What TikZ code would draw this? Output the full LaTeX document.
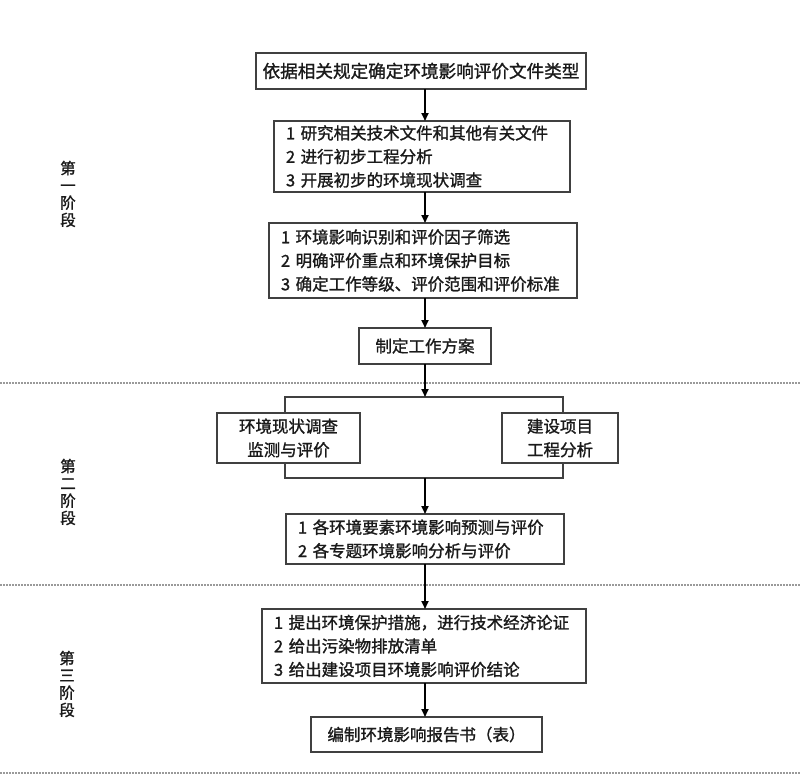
\documentclass[tikz,border=0pt]{standalone}
\usepackage{fontspec}
\setmainfont{Noto Sans CJK SC}[AutoFakeBold=1.3]
\usetikzlibrary{arrows.meta,positioning}
\definecolor{bordc}{HTML}{404040}
\definecolor{txtc}{HTML}{1A1A1A}
\definecolor{dashc}{HTML}{9A9A9A}
\tikzset{
  box/.style={draw=bordc, line width=1.4pt, fill=white, text=txtc, inner ysep=0pt,
    font=\fontsize{16.5}{23.5}\selectfont\bfseries, anchor=north west, outer sep=0pt},
  lbox/.style={box, align=left, inner xsep=12pt},
  cbox/.style={box, align=center, inner xsep=2pt},
  arr/.style={line width=1.8pt, draw=black, -{Triangle[length=8pt,width=7pt]}},
  sepline/.style={draw=dashc, line width=1.2pt, dash pattern=on 2pt off 1pt},
  stage/.style={text=txtc, font=\fontsize{15.5}{17.3}\selectfont\bfseries, align=center, inner sep=0pt},
}
\begin{document}
\begin{tikzpicture}[x=1pt,y=-1pt]
\useasboundingbox (0,0) rectangle (800,776);
\fill[white] (0,0) rectangle (800,776);

% separators
\coordinate (s1a) at (0,383); \coordinate (s1b) at (800,383);
\coordinate (s2a) at (0,585); \coordinate (s2b) at (800,585);
\coordinate (s3a) at (0,773); \coordinate (s3b) at (800,773);
\draw[sepline] (s1a) -- (s1b);
\draw[sepline] (s2a) -- (s2b);
\draw[sepline] (s3a) -- (s3b);

% stage labels
\node[stage] (st1) at (68,194) {第\\一\\阶\\段};
\node[stage] (st2) at (68,492) {第\\二\\阶\\段};
\node[stage] (st3) at (67,684) {第\\三\\阶\\段};

% boxes
\node[cbox, minimum width=330pt, minimum height=36pt, font=\fontsize{17.6}{23.5}\selectfont\bfseries] (b1) at (256,53) {依据相关规定确定环境影响评价文件类型};
\node[lbox, text width=272pt, minimum height=71pt] (b2) at (274,121)
  {1 研究相关技术文件和其他有关文件\\2 进行初步工程分析\\3 开展初步的环境现状调查};
\node[lbox, text width=284pt, minimum height=75pt] (b3) at (269,223)
  {1 环境影响识别和评价因子筛选\\2 明确评价重点和环境保护目标\\3 确定工作等级、评价范围和评价标准};
\node[cbox, minimum width=132pt, minimum height=36pt] (b4) at (359,328) {制定工作方案};

% branch bracket
\node[draw=bordc, line width=1.4pt, minimum width=278pt, minimum height=81pt, anchor=north west, inner sep=0pt, outer sep=0pt] (br) at (285,397) {};
\node[cbox, minimum width=143pt, minimum height=50pt] (bl) at (217,413) {环境现状调查\\监测与评价};
\node[cbox, minimum width=116pt, minimum height=50pt] (brt) at (502,413) {建设项目\\工程分析};

\node[lbox, text width=254pt, minimum height=50pt] (b5) at (286,514)
  {1 各环境要素环境影响预测与评价\\2 各专题环境影响分析与评价};
\node[lbox, text width=300pt, minimum height=74pt] (b6) at (262,609)
  {1 提出环境保护措施，进行技术经济论证\\2 给出污染物排放清单\\3 给出建设项目环境影响评价结论};
\node[cbox, minimum width=231pt, minimum height=35pt] (b7) at (311,717) {编制环境影响报告书（表）};

% arrows
\draw[arr] (b1.south -| b4.center) -- (b2.north -| b4.center);
\draw[arr] (b2.south -| b4.center) -- (b3.north -| b4.center);
\draw[arr] (b3.south -| b4.center) -- (b4.north);
\draw[arr] (b4.south) -- (br.north -| b4.center);
\draw[arr] (br.south -| b4.center) -- (b5.north -| b4.center);
\draw[arr] (b5.south -| b4.center) -- (b6.north -| b4.center);
\draw[arr] (b6.south -| b4.center) -- (b7.north -| b4.center);
\end{tikzpicture}
\end{document}
